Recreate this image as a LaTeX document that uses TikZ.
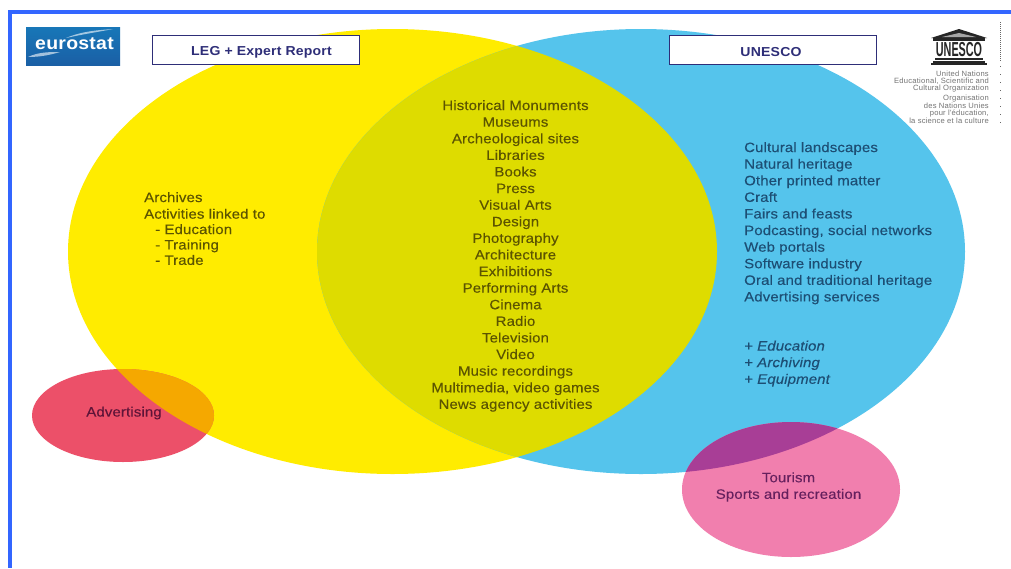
\documentclass[tikz,border=0pt]{standalone}
\usepackage{fontspec}
\setmainfont{Liberation Sans}
\newfontfamily\labf[FakeStretch=1.1,LetterSpace=1,FakeBold=0.25]{Liberation Sans}
\newfontfamily\hdf[FakeStretch=1.08,LetterSpace=1.5]{Liberation Sans}
\newfontfamily\unf[LetterSpace=3]{Liberation Sans}
\usetikzlibrary{shapes.geometric}
\definecolor{cyel}{HTML}{FFEC00}
\definecolor{cblu}{HTML}{55C4EC}
\definecolor{cmix}{HTML}{DEDC00}
\definecolor{cred}{HTML}{EC5069}
\definecolor{cora}{HTML}{F5A800}
\definecolor{cpnk}{HTML}{F17FAE}
\definecolor{cpur}{HTML}{A83E96}
\definecolor{cfrm}{HTML}{3366FF}
\definecolor{cnav}{HTML}{2E2E78}
\definecolor{tyel}{HTML}{5C5400}
\definecolor{tblu}{HTML}{1D4E74}
\definecolor{tred}{HTML}{5E1438}
\definecolor{tpnk}{HTML}{66205E}
\definecolor{eutop}{HTML}{1877B8}
\definecolor{eubot}{HTML}{1A5FA5}
\tikzset{
  x=1pt,y=-1pt,
  lab/.style={font=\labf\fontsize{13.6}{16.6}\selectfont,text=tyel,inner sep=0pt},
  hdbox/.style={draw=cnav,line width=1.3pt,fill=white,minimum width=207pt,minimum height=29pt,inner sep=0pt},
  hdtext/.style={inner sep=0pt,text=cnav,font=\hdf\fontsize{13}{15}\selectfont\bfseries},
  un/.style={font=\unf\fontsize{7.6}{6.7}\selectfont,text=black!55,inner sep=0pt,align=right,anchor=north east}
}
\begin{document}
\begin{tikzpicture}
\useasboundingbox (0,0) rectangle (1011,568);
\fill[white] (0,0) rectangle (1011,568);
% frame
\fill[cfrm] (8,10) rectangle (1011,14);
\fill[cfrm] (8,10) rectangle (12,568);
% big ellipses
\fill[cyel] (392.5,251.5) ellipse [x radius=324.5,y radius=222.5];
\fill[cblu] (641,251.5) ellipse [x radius=324,y radius=222.5];
\begin{scope}
\clip (392.5,251.5) ellipse [x radius=324.5,y radius=222.5];
\fill[cmix] (641,251.5) ellipse [x radius=324,y radius=222.5];
\end{scope}
% small ellipses
\fill[cred] (123,415.5) ellipse [x radius=91,y radius=46.5];
\begin{scope}
\clip (392.5,251.5) ellipse [x radius=324.5,y radius=222.5];
\fill[cora] (123,415.5) ellipse [x radius=91,y radius=46.5];
\end{scope}
\fill[cpnk] (791,489.5) ellipse [x radius=109,y radius=67.5];
\begin{scope}
\clip (641,251.5) ellipse [x radius=324,y radius=222.5];
\fill[cpur] (791,489.5) ellipse [x radius=109,y radius=67.5];
\end{scope}
% headers
\node[hdbox] (leg) at (256,50) {};
\node[hdtext] (legt) at (261.5,52) {LEG + Expert Report};
\node[hdbox] (unesco) at (773,50) {};
\node[hdtext] (unescot) at (771,52) {UNESCO};
% eurostat logo
\shade[top color=eutop,bottom color=eubot] (26,27) rectangle (120,65);
\fill[white,opacity=.6] (66,38) .. controls (82,31) and (100,30) .. (113,29) .. controls (98,32) and (84,34) .. (66,38) -- cycle;
\fill[white,opacity=.6] (28,57) .. controls (38,52) and (50,52) .. (60,52) .. controls (50,55) and (40,57) .. (28,57) -- cycle;
\node[inner sep=0pt,text=white,font=\hdf\fontsize{18}{20}\selectfont\bfseries] (euro) at (74.5,44) {eurostat};
% unesco logo
\fill[black!85] (959,29) -- (987,38) -- (931,38) -- cycle;
\fill[black!35] (959,33) -- (976,37) -- (942,37) -- cycle;
\fill[black!85] (933,38) rectangle (985,40.5);
\node[inner sep=0pt,text=black!85,font=\fontsize{15}{15}\selectfont\bfseries] (unlogo) at (959,49.5) {\scalebox{0.72}[1.35]{UNESCO}};
\fill[black!85] (935,58) rectangle (983,60);
\fill[black!85] (933,60.5) rectangle (985,62.5);
\fill[black!85] (931,63) rectangle (987,65);
\node[un] (un1) at (989,71) {United Nations\\Educational, Scientific and\\Cultural Organization};
\node[un] (un2) at (989,95) {Organisation\\des Nations Unies\\pour l'éducation,\\la science et la culture};
\draw[black!60,line width=.9pt,dash pattern=on 1pt off 1pt] (1000,22) -- (1000,62);
\draw[black!60,line width=.9pt,dash pattern=on 1pt off 7pt] (1000,66) -- (1000,124);
% centre list
\node[lab,align=center,anchor=north] (mid) at (515.5,100) {Historical Monuments\\Museums\\Archeological sites\\Libraries\\Books\\Press\\Visual Arts\\Design\\Photography\\Architecture\\Exhibitions\\Performing Arts\\Cinema\\Radio\\Television\\Video\\Music recordings\\Multimedia, video games\\News agency activities};
% left list
\node[lab,align=left,anchor=north west] (leftlist) at (144,192) {Archives\\Activities linked to\\[-1.2pt]\hspace*{11pt}- Education\\[-1.2pt]\hspace*{11pt}- Training\\[-1.2pt]\hspace*{11pt}- Trade};
% right list
\node[lab,text=tblu,align=left,anchor=north west] (rightlist) at (744,142) {Cultural landscapes\\Natural heritage\\Other printed matter\\Craft\\Fairs and feasts\\Podcasting, social networks\\Web portals\\Software industry\\Oral and traditional heritage\\Advertising services};
\node[lab,text=tblu,align=left,anchor=north west,font=\labf\fontsize{13.6}{16.6}\selectfont\itshape] (plus) at (744,340.5) {+ Education\\+ Archiving\\+ Equipment};
\node[lab,text=tred] (adv) at (124,413) {Advertising};
\node[lab,text=tpnk,align=center] (tour) at (788.5,487) {Tourism\\Sports and recreation};
\end{tikzpicture}
\end{document}
